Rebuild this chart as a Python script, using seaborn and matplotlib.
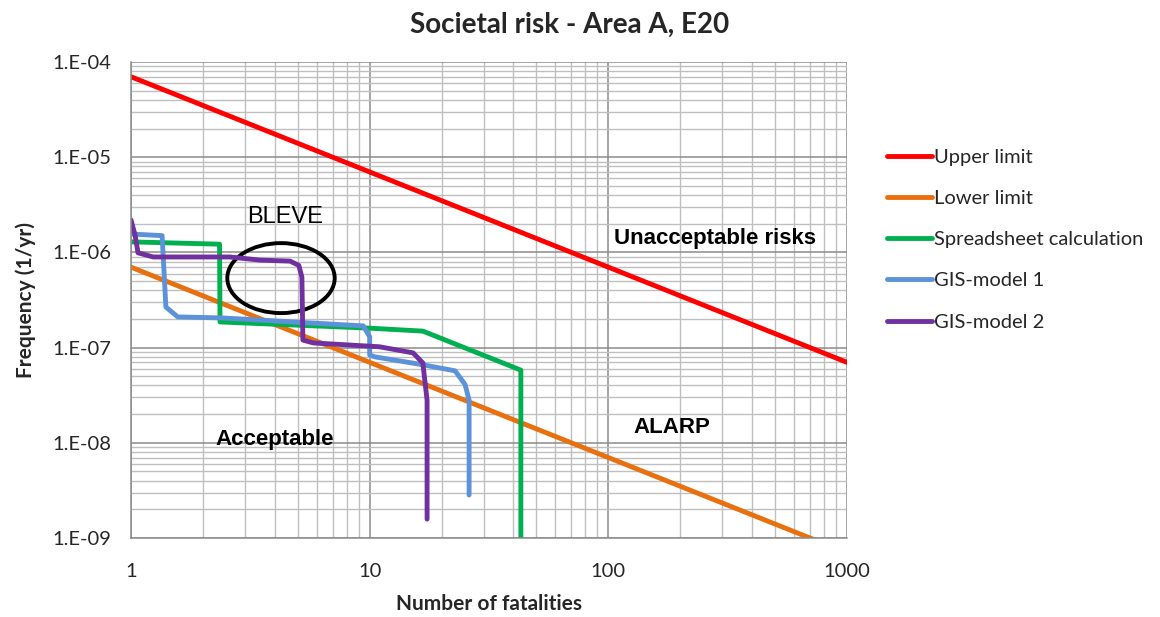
import numpy as np
import pandas as pd
import seaborn as sns
import matplotlib
matplotlib.use("Agg")
import matplotlib.pyplot as plt
from matplotlib.patches import Ellipse
from matplotlib.ticker import LogLocator, NullFormatter, FixedLocator, FixedFormatter

# Criterion lines (F-N limits)
upper_n = [1, 1000]
upper_f = [7e-5, 7e-8]
lower_n = [1, 1000]
lower_f = [7e-7, 7e-10]

# F-N curves
spread_n = [1.0, 2.35, 2.36, 10.0, 16.7, 43.0, 43.0]
spread_f = [1.29e-6, 1.22e-6, 1.86e-7, 1.6e-7, 1.49e-7, 5.8e-8, 5e-10]

gis1_n = [1.0, 1.35, 1.40, 1.57, 2.4, 9.4, 10.0, 10.0, 10.5, 16.7, 22.8, 25.1, 26.1, 26.1]
gis1_f = [1.56e-6, 1.5e-6, 2.67e-7, 2.1e-7, 2.05e-7, 1.69e-7, 1.3e-7, 8.35e-8, 8.0e-8,
          6.6e-8, 5.7e-8, 4.1e-8, 2.8e-8, 2.83e-9]

gis2_n = [1.0, 1.04, 1.07, 1.24, 2.6, 3.47, 4.64, 5.05, 5.2, 5.25, 5.8, 11.0, 15.2, 16.7, 17.4, 17.4]
gis2_f = [2.19e-6, 1.52e-6, 9.9e-7, 8.95e-7, 8.95e-7, 8.3e-7, 8.1e-7, 7.3e-7, 5.5e-7, 1.2e-7,
          1.12e-7, 1.02e-7, 8.8e-8, 6.9e-8, 2.8e-8, 1.58e-9]

series_names = ["Upper limit", "Lower limit", "Spreadsheet calculation", "GIS-model 1", "GIS-model 2"]
series_colors = ["#FF0000", "#E8700F", "#00B050", "#5B92D8", "#7030A0"]

frames = []
for name, n, f in zip(series_names,
                      [upper_n, lower_n, spread_n, gis1_n, gis2_n],
                      [upper_f, lower_f, spread_f, gis1_f, gis2_f]):
    frames.append(pd.DataFrame({"N": n, "F": f, "series": name, "order": range(len(n))}))
df = pd.concat(frames, ignore_index=True)

sns.set_theme(style="white")
plt.rcParams["font.family"] = ["Lato", "DejaVu Sans"]

fig = plt.figure(figsize=(11.6, 6.17), dpi=100)
ax = fig.add_axes([131 / 1160, 79 / 617, 716 / 1160, 476 / 617])

for name, color in zip(series_names, series_colors):
    sub = df[df["series"] == name]
    sns.lineplot(data=sub, x="N", y="F", ax=ax, color=color, lw=3.5, sort=False,
                 estimator=None, label=name, solid_capstyle="round", solid_joinstyle="round")

ax.set_xscale("log")
ax.set_yscale("log")
ax.set_xlim(1, 1000)
ax.set_ylim(1e-9, 1e-4)

# Grid: major and minor
ax.xaxis.set_major_locator(FixedLocator([1, 10, 100, 1000]))
ax.xaxis.set_major_formatter(FixedFormatter(["1", "10", "100", "1000"]))
ax.xaxis.set_minor_locator(LogLocator(base=10, subs=np.arange(2, 10)))
ax.xaxis.set_minor_formatter(NullFormatter())
yt = [1e-9, 1e-8, 1e-7, 1e-6, 1e-5, 1e-4]
ax.yaxis.set_major_locator(FixedLocator(yt))
ax.yaxis.set_major_formatter(FixedFormatter(["1.E-09", "1.E-08", "1.E-07", "1.E-06", "1.E-05", "1.E-04"]))
ax.yaxis.set_minor_locator(LogLocator(base=10, subs=np.arange(2, 10)))
ax.yaxis.set_minor_formatter(NullFormatter())

ax.grid(which="major", color="#8C8C8C", lw=1.1)
ax.grid(which="minor", color="#BFBFBF", lw=1.0)
ax.set_axisbelow(True)
for s in ["top", "right"]:
    ax.spines[s].set_visible(False)
for s in ["left", "bottom"]:
    ax.spines[s].set_color("#8C8C8C")
    ax.spines[s].set_linewidth(1.1)
ax.tick_params(which="major", length=6, width=1.1, color="#8C8C8C", direction="out",
               labelsize=14.5, labelcolor="#262626", pad=8)
ax.tick_params(axis="x", which="major", pad=12)
ax.tick_params(which="minor", length=0)

ax.set_xlabel("Number of fatalities", fontsize=15, fontweight="bold", labelpad=10)
ax.set_ylabel("Frequency (1/yr)", fontsize=15, fontweight="bold", labelpad=12)
fig.text(570 / 1160, 1 - 25 / 617, "Societal risk - Area A, E20", fontsize=20,
         fontweight="bold", ha="center", va="center")

# Region labels
ann = dict(family=["Liberation Sans", "DejaVu Sans"], fontsize=16, color="black")
ax.text(0.8155, 0.63, "Unacceptable risks", ha="center", va="center", fontweight="bold",
        transform=ax.transAxes, **ann)
ax.text(0.7555, 0.233, "ALARP", ha="center", va="center", fontweight="bold",
        transform=ax.transAxes, **ann)
ax.text(0.201, 0.206, "Acceptable", ha="center", va="center", fontweight="bold",
        transform=ax.transAxes, **ann)
ax.text(0.215, 0.674, "BLEVE", ha="center", va="center", transform=ax.transAxes,
        family=["Liberation Sans", "DejaVu Sans"], fontsize=17, color="black")
ax.add_patch(Ellipse((0.2095, 0.546), 0.150, 0.147, transform=ax.transAxes,
                     fill=False, ec="black", lw=2.8))

leg = ax.legend(loc="upper left", bbox_to_anchor=(1.045, 0.835), frameon=False,
                fontsize=14.5, handlelength=2.2, handletextpad=0.1, labelspacing=1.2,
                borderaxespad=0)
for t in leg.get_texts():
    t.set_color("#262626")

fig.savefig("out.png", dpi=100)
